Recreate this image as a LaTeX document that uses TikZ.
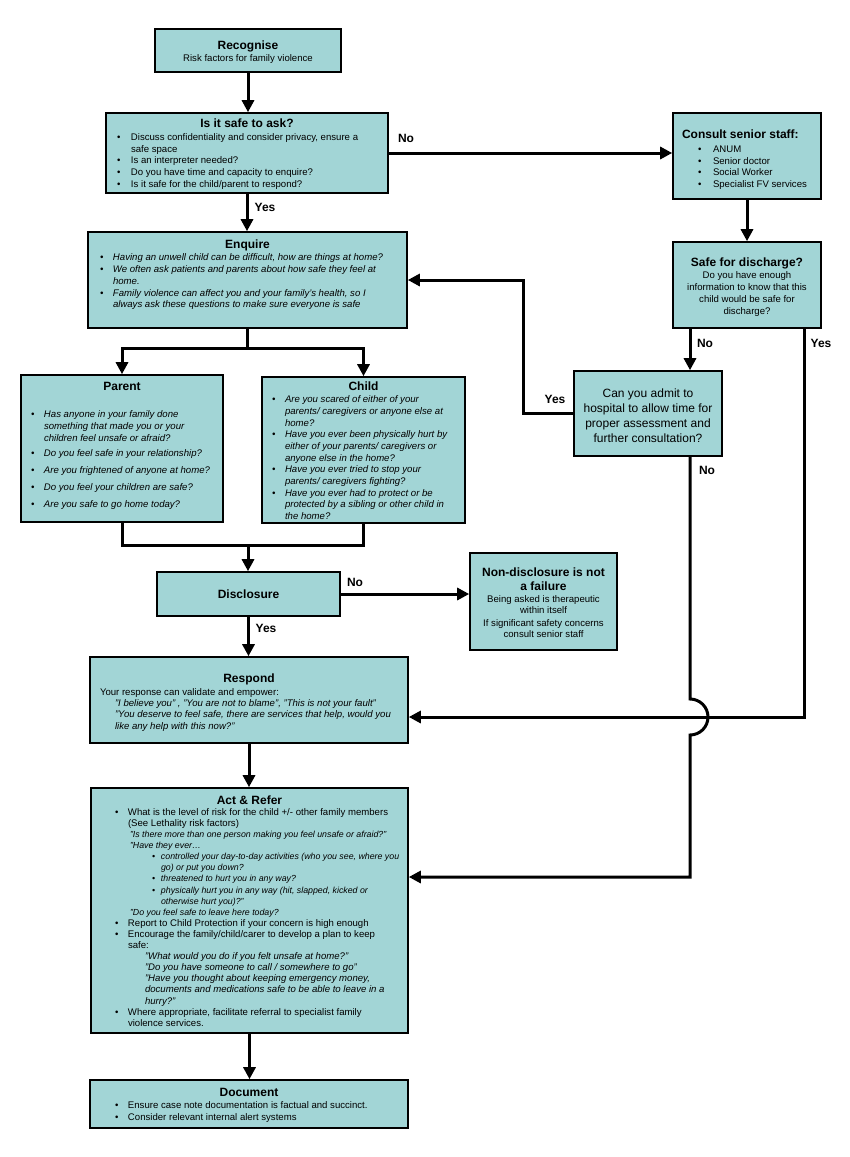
\documentclass[tikz,border=0pt]{standalone}
\usepackage{fontspec}
\setmainfont{Liberation Sans}
\usetikzlibrary{arrows.meta}
\definecolor{boxfill}{RGB}{162,213,214}
\newcommand\ttlf{\fontsize{12}{14}\selectfont\bfseries}
\newcommand\bodyf[1]{\fontsize{9.6}{#1}\selectfont}
\newcommand\tbox[3]{\begin{minipage}[c][#2pt][t]{#1pt}\raggedright\parskip=0pt #3\end{minipage}}
\newcommand\bul[3]{\par{\let\\\newline\hangindent=#2pt\hangafter=1\noindent\makebox[#2pt][l]{\hspace*{#1pt}\textbullet}#3\par}}
\newcommand\iline[2]{\par{\leftskip=#1pt\noindent #2\par}}
\begin{document}
\begin{tikzpicture}[x=1pt,y=-1pt,
  box/.style={draw=black,line width=1.6pt,fill=boxfill,inner sep=0pt,rectangle},
  conn/.style={line width=3pt},
  arr/.style={conn,-{Triangle[length=12pt,width=12pt]}},
  lbl/.style={font=\ttlf,inner sep=0pt}]
\useasboundingbox (0,0) rectangle (850,1157);
% ---------------- boxes
\node[box,minimum width=186,minimum height=43] (rec) at (248,50.5)
 {\tbox{186}{19.6}{\centering{\ttlf Recognise\par}{\bodyf{12.1}Risk factors for family violence\par}}};
\node[box,minimum width=282,minimum height=80] (safe) at (247,153)
 {\tbox{282}{69}{{\centering\ttlf Is it safe to ask?\par}\vspace{1.5pt}\bodyf{11.7}%
 \bul{11}{25}{Discuss confidentiality and consider privacy, ensure a\\ safe space}%
 \bul{11}{25}{Is an interpreter needed?}%
 \bul{11}{25}{Do you have time and capacity to enquire?}%
 \bul{11}{25}{Is it safe for the child/parent to respond?}}};
\node[box,minimum width=319,minimum height=96] (enq) at (247.5,280)
 {\tbox{319}{80.6}{{\centering\ttlf Enquire\par}\vspace{0.4pt}\bodyf{11.8}\itshape
 \bul{12}{25}{Having an unwell child can be difficult, how are things at home?}%
 \bul{12}{25}{We often ask patients and parents about how safe they feel at\\ home.}%
 \bul{12}{25}{Family violence can affect you and your family's health, so I\\ always ask these questions to make sure everyone is safe}}};
\node[box,minimum width=202,minimum height=147] (par) at (122,448.5)
 {\tbox{202}{131.6}{{\centering\ttlf Parent\par}\vspace{14.2pt}\bodyf{12}\itshape
 \bul{10}{23}{Has anyone in your family done\\ something that made you or your\\ children feel unsafe or afraid?}\vspace{3pt}%
 \bul{10}{23}{Do you feel safe in your relationship?}\vspace{5pt}%
 \bul{10}{23}{Are you frightened of anyone at home?}\vspace{5pt}%
 \bul{10}{23}{Do you feel your children are safe?}\vspace{5pt}%
 \bul{10}{23}{Are you safe to go home today?}}};
\node[box,minimum width=203,minimum height=146] (chi) at (363.5,450)
 {\tbox{203}{136.6}{{\centering\ttlf Child\par}\vspace{0.5pt}\bodyf{11.7}\itshape
 \bul{10}{23}{Are you scared of either of your\\ parents/ caregivers or anyone else at\\ home?}%
 \bul{10}{23}{Have you ever been physically hurt by\\ either of your parents/ caregivers or\\ anyone else in the home?}%
 \bul{10}{23}{Have you ever tried to stop your\\ parents/ caregivers fighting?}%
 \bul{10}{23}{Have you ever had to protect or be\\ protected by a sibling or other child in\\ the home?}}};
\node[box,minimum width=183,minimum height=44] (dis) at (248.5,594) {\ttlf Disclosure};
\node[box,minimum width=147,minimum height=97] (nd) at (543.5,601.5)
 {\tbox{147}{68}{\centering{\ttlf Non-disclosure is not\\ a failure\par}\vspace{0.9pt}%
 {\fontsize{9.6}{11}\selectfont Being asked is therapeutic\\ within itself\par}\vspace{2pt}%
 {\fontsize{9.6}{11}\selectfont If significant safety concerns\\ consult senior staff\par}}};
\node[box,minimum width=148,minimum height=86] (cons) at (747,156)
 {\tbox{148}{53}{{\leftskip=9pt\noindent\ttlf Consult senior staff:\par}\vspace{2.5pt}\bodyf{11.7}%
 \bul{25}{40}{ANUM}\bul{25}{40}{Senior doctor}\bul{25}{40}{Social Worker}\bul{25}{40}{Specialist FV services}}};
\node[box,minimum width=148,minimum height=86] (sd) at (747,285)
 {\tbox{148}{55}{\centering{\ttlf Safe for discharge?\par}{\bodyf{12}Do you have enough\\ information to know that this\\ child would be safe for\\ discharge?\par}}};
\node[box,minimum width=148,minimum height=85] (adm) at (648,413.5)
 {\tbox{148}{50}{\centering\fontsize{12}{15}\selectfont Can you admit to\\ hospital to allow time for\\ proper assessment and\\ further consultation?\par}};
\node[box,minimum width=318,minimum height=86] (resp) at (249,700)
 {\tbox{318}{53}{{\centering\ttlf Respond\par}\vspace{1.8pt}\bodyf{11.3}%
 \iline{10}{Your response can validate and empower:}\itshape
 \iline{25}{"I believe you" , "You are not to blame", "This is not your fault"\\ "You deserve to feel safe, there are services that help, would you\\ like any help with this now?"}}};
\node[box,minimum width=317,minimum height=245] (act) at (249.5,910.5)
 {\tbox{317}{230}{{\centering\ttlf Act \& Refer\par}\bodyf{11.1}%
 \bul{24}{37}{What is the level of risk for the child +/- other family members\\ (See Lethality risk factors)}%
 {\fontsize{8.8}{11.1}\selectfont\itshape
 \iline{39}{"Is there more than one person making you feel unsafe or afraid?"\\ "Have they ever…}%
 \bul{61}{70}{controlled your day-to-day activities (who you see, where you\\ go) or put you down?}%
 \bul{61}{70}{threatened to hurt you in any way?}%
 \bul{61}{70}{physically hurt you in any way (hit, slapped, kicked or\\ otherwise hurt you)?"}%
 \iline{39}{"Do you feel safe to leave here today?}}%
 \bul{24}{37}{Report to Child Protection if your concern is high enough}%
 \bul{24}{37}{Encourage the family/child/carer to develop a plan to keep\\ safe:}%
 {\itshape\iline{54}{"What would you do if you felt unsafe at home?"\\ "Do you have someone to call / somewhere to go"\\ "Have you thought about keeping emergency money,\\ documents and medications safe to be able to leave in a\\ hurry?"}}%
 \bul{24}{37}{Where appropriate, facilitate referral to specialist family\\ violence services.}}};
\node[box,minimum width=318,minimum height=48] (doc) at (249,1104)
 {\tbox{318}{30.6}{{\centering\ttlf Document\par}\bodyf{12}\vspace{-0.8pt}%
 \bul{25}{38}{Ensure case note documentation is factual and succinct.}%
 \bul{25}{38}{Consider relevant internal alert systems}}};
% ---------------- labels
\node[lbl] (l1) at (406,138) {No};
\node[lbl] (l2) at (265,207) {Yes};
\node[lbl] (l3) at (705,343) {No};
\node[lbl] (l4) at (821,343) {Yes};
\node[lbl] (l5) at (555,399) {Yes};
\node[lbl] (l6) at (707,470) {No};
\node[lbl] (l7) at (355,582) {No};
\node[lbl] (l8) at (266,628) {Yes};
% ---------------- coordinates
\coordinate (split) at (247.5,348);
\coordinate (join) at (248,545);
\coordinate (colA) at (690,0);
\coordinate (colB) at (804,0);
\coordinate (fb) at (523,0);
\coordinate (hopTop) at (690,699);
\coordinate (hopMid) at (708,717);
\coordinate (hopBot) at (690,735);
\coordinate (actIn) at (690,877);
\coordinate (respIn) at (804,717);
% ---------------- connectors
\draw[arr] (rec.south) -- (rec.south |- safe.north);
\draw[arr] (safe.south) -- (safe.south |- enq.north);
\draw[arr] (safe.east) -- (safe.east -| cons.west);
\draw[arr] (cons.south) -- (sd.north);
\draw[conn] (enq.south) -- (split);
\draw[arr] (split) -| (par.north);
\draw[arr] (split) -| (chi.north);
\draw[conn] (par.south) |- (join) -| (chi.south);
\draw[arr] (join) -- (join |- dis.north);
\draw[arr] (dis.east) -- (dis.east -| nd.west);
\draw[arr] (dis.south) -- (dis.south |- resp.north);
\draw[arr] (colA |- sd.south) -- (colA |- adm.north);
\draw[arr] (adm.west) -- (fb |- adm.west) |- (enq.east);
\draw[arr] (colB |- sd.south) -- (respIn) -- (respIn -| resp.east);
\draw[arr] (colA |- adm.south) -- (hopTop) .. controls +(9.94,0) and +(0,-9.94) .. (hopMid) .. controls +(0,9.94) and +(9.94,0) .. (hopBot) -- (actIn) -- (actIn -| act.east);
\draw[arr] (resp.south) -- (resp.south |- act.north);
\draw[arr] (act.south) -- (act.south |- doc.north);
\end{tikzpicture}
\end{document}
